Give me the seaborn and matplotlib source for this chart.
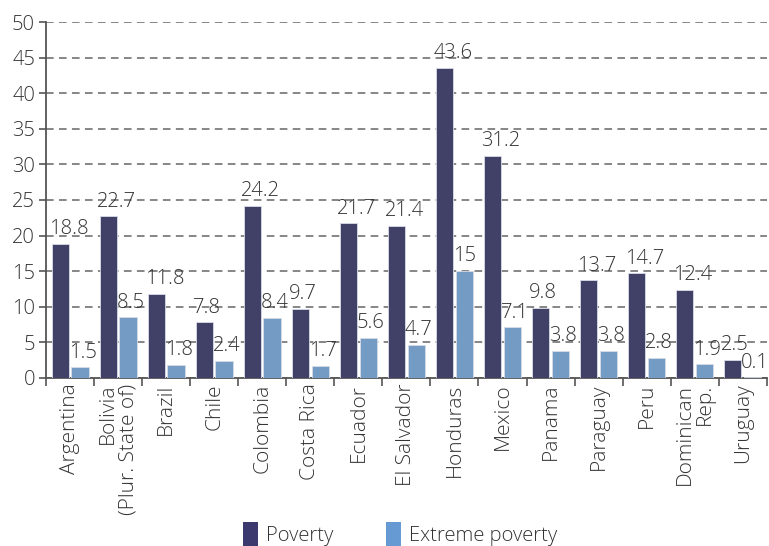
import matplotlib
matplotlib.use("Agg")
import matplotlib.pyplot as plt
import seaborn as sns
import pandas as pd
import numpy as np
from matplotlib.patches import Patch

countries = ["Argentina", "Bolivia\n(Plur. State of)", "Brazil", "Chile", "Colombia",
             "Costa Rica", "Ecuador", "El Salvador", "Honduras", "Mexico",
             "Panama", "Paraguay", "Peru", "Dominican\nRep.", "Uruguay"]
poverty = [18.8, 22.7, 11.8, 7.8, 24.2, 9.7, 21.7, 21.4, 43.6, 31.2, 9.8, 13.7, 14.7, 12.4, 2.5]
extreme = [1.5, 8.5, 1.8, 2.4, 8.4, 1.7, 5.6, 4.7, 15, 7.1, 3.8, 3.8, 2.8, 1.9, 0.1]
series = ["Poverty", "Extreme poverty"]
value_labels_pov = ["18.8", "22.7", "11.8", "7.8", "24.2", "9.7", "21.7", "21.4", "43.6",
                    "31.2", "9.8", "13.7", "14.7", "12.4", "2.5"]
value_labels_ext = ["1.5", "8.5", "1.8", "2.4", "8.4", "1.7", "5.6", "4.7", "15",
                    "7.1", "3.8", "3.8", "2.8", "1.9", "0.1"]

colors = ["#3b396d", "#659bd2"]
text_color = "#333333"

df = pd.DataFrame({
    "country": countries * 2,
    "value": poverty + extreme,
    "series": [series[0]] * len(countries) + [series[1]] * len(countries),
})

sns.set_style("white")
plt.rcParams["font.family"] = ["Open Sans", "DejaVu Sans"]
plt.rcParams["font.weight"] = "light"

fig = plt.figure(figsize=(7.69, 5.46), dpi=100)
ax = fig.add_axes([0.060, 0.3077, 0.937, 0.652])

sns.barplot(data=df, x="country", y="value", hue="series", order=countries,
            hue_order=series, palette=colors, width=0.82, gap=0.12,
            edgecolor="#d8dbe8", linewidth=0.6, legend=False, ax=ax, zorder=3)

ax.set_ylim(0, 50)
ax.set_xlim(-0.5, len(countries) - 0.5)
ax.set_yticks(np.arange(0, 51, 5))
ax.yaxis.grid(True, linestyle=(0, (5, 3.5)), color="#666666", linewidth=1.1, zorder=0)
ax.xaxis.grid(False)
ax.set_xlabel("")
ax.set_ylabel("")

for side in ["top", "right"]:
    ax.spines[side].set_visible(False)
for side in ["left", "bottom"]:
    ax.spines[side].set_color("#555555")
    ax.spines[side].set_linewidth(1.3)

ax.tick_params(axis="y", length=5, width=1.2, color="#555555", labelsize=14.5,
               labelcolor=text_color, pad=3, left=True)
ax.set_xticks(range(len(countries)))
ax.set_xticklabels(countries, rotation=90, fontsize=15, color=text_color,
                   multialignment="right", linespacing=1.0)
ax.tick_params(axis="x", length=0, pad=4)
ax.set_xticks(np.arange(-0.5, len(countries), 1), minor=True)
ax.tick_params(axis="x", which="minor", length=6, width=1.2, color="#555555", bottom=True)

# value labels, left-aligned on each bar
for container, labels in zip(ax.containers, [value_labels_pov, value_labels_ext]):
    for bar, lab in zip(container, labels):
        ax.annotate(lab, xy=(bar.get_x(), bar.get_height()), xytext=(-2, 7),
                    textcoords="offset points", ha="left", va="baseline",
                    fontsize=14.5, color=text_color, zorder=5)

handles = [Patch(facecolor=c, edgecolor="none") for c in colors]
fig.legend(handles, series, loc="upper center", bbox_to_anchor=(0.52, 0.062),
           ncol=2, frameon=False, fontsize=14.5, handlelength=0.75, handleheight=1.5,
           handletextpad=0.4, columnspacing=2.6, borderpad=0, labelcolor=text_color)

fig.savefig("out.png", dpi=100)
